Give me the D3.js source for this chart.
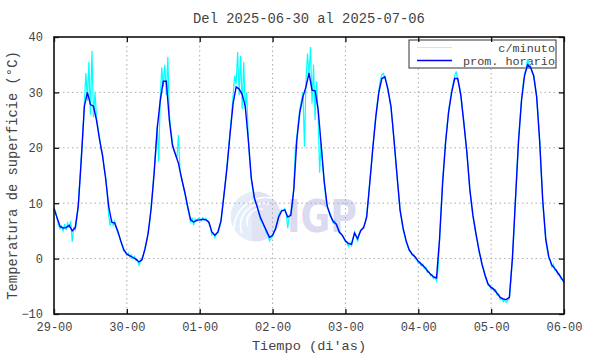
<!DOCTYPE html>
<html>
<head>
<meta charset="utf-8">
<script src="https://cdn.jsdelivr.net/npm/d3@7"></script>
<style>
  body { margin: 0; background: #fff; }
  text { font-family: "Liberation Mono", "DejaVu Sans Mono", monospace; fill: #444; }
</style>
</head>
<body>
<div class="canvas"></div>
<script>
// tick labels (dias) and y ticks
const dayLabels = ["29-00", "30-00", "01-00", "02-00", "03-00", "04-00", "05-00", "06-00"];
const yTicks = [-10, 0, 10, 20, 30, 40];

// promedio horario, one value per hour (0..168)
const promHorario = [
  9.0, 7.4, 5.8, 5.5, 5.6, 6.0, 5.0, 5.6, 9.5, 18, 27.5, 30, 27.8, 27.5, 25, 21.5, 18.5, 14.5, 9.5, 6.6, 6.4, 5.0, 3.2, 1.6,
  0.8, 0.5, 0.2, -0.1, -0.6, -0.2, 1.8, 4.5, 9.0, 15.5, 23.5, 28.5, 32, 32, 25, 20.5, 18.8, 17.2, 14.5, 12.2, 9.5, 7.0, 6.6, 6.9,
  7.0, 7.1, 7.0, 6.6, 4.8, 4.2, 4.8, 6.8, 11.5, 16.5, 22.5, 28, 31, 30.6, 29.6, 27.5, 21.5, 14.5, 11.0, 9.2, 7.4, 6.2, 5.0, 3.8,
  4.2, 5.4, 7.5, 8.6, 8.8, 7.5, 7.8, 12.5, 21.5, 26.5, 29.2, 31, 33.5, 30.4, 30.3, 27, 20.5, 14, 9.5, 7.8, 6.7, 6.2, 4.8, 4.2,
  3.2, 2.7, 2.6, 4.6, 3.6, 5.0, 5.6, 7.5, 13.5, 19.8, 25.5, 30, 32.5, 32.8, 30.5, 27.5, 21.5, 15, 8.8, 5.5, 3.2, 1.6, 0.8, 0.3,
  -0.5, -1.0, -1.5, -2.2, -2.8, -3.3, -3.5, 3.5, 13.5, 21, 26.5, 30, 32.5, 32.5, 29.5, 24.5, 19.2, 12.4, 7.8, 4.5, 1.5, -1.0, -3.0, -4.6,
  -5.2, -5.6, -6.3, -7.0, -7.3, -7.4, -7.0, 0.0, 10.5, 21, 28.5, 33, 35, 34.5, 33, 29.2, 21, 10.5, 3.5, 0.3, -1.2, -1.8, -2.6, -3.4,
  -4.2
];

// c/minuto, read every half hour (0, 0.5, ... 168)
const cMinuto = [
  9.2, 8.6, 7.2, 6.0, 5.4, 5.9, 5.0, 6.2, 5.2, 6.4, 5.5, 6.8, 3.0, 5.6, 5.2, 7.0, 9.8, 14, 18.5, 22.5, 28, 33.5, 28.5, 35.5,
  26, 37.5, 25.5, 30, 25.5, 23.5, 21.8, 20, 18.8, 16.5, 14.8, 12, 7.8, 6.0, 7.0, 6.0, 6.8, 5.5, 4.6, 4.0, 3.0, 2.2, 1.3, 1.2,
  0.6, 1.0, 0.3, 0.7, 0.0, 0.4, -0.4, -0.2, -1.2, -0.5, 0.2, 0.8, 2.0, 3.0, 4.8, 6.5, 9.5, 12.5, 16, 19.5, 24, 17.5, 29, 34.5,
  31, 35, 29.5, 36.4, 26, 23, 21, 19.5, 19.0, 18.0, 22.3, 16.0, 14.8, 13.2, 12.0, 10.8, 9.0, 8.0, 6.5, 7.4, 6.0, 7.2, 6.8, 7.3,
  7.2, 6.8, 7.4, 7.0, 7.3, 6.8, 6.4, 5.8, 4.3, 4.6, 3.8, 4.5, 4.6, 5.5, 6.6, 9.0, 11.8, 14.0, 17, 20, 23, 26, 29.5, 33,
  31.5, 37.3, 29.5, 36.6, 27, 35.5, 27, 30, 21.5, 17.5, 14.2, 12.5, 10.5, 10.0, 9.5, 8.0, 7.0, 6.6, 6.0, 5.4, 4.6, 4.2, 3.2, 3.6,
  4.0, 5.0, 5.6, 6.6, 7.8, 8.4, 8.8, 8.6, 9.0, 8.2, 5.5, 7.8, 8.0, 9.5, 13, 20.0, 22, 25, 27, 28.5, 30, 20.2, 32, 37.0,
  33, 38.2, 28, 35, 25, 32, 26, 15.5, 21, 17, 13.8, 11, 9.2, 8.6, 8.2, 7.2, 6.4, 6.8, 6.0, 5.4, 4.6, 4.5, 4.0, 3.6,
  3.0, 2.8, 2.2, 2.9, 2.3, 3.6, 4.8, 4.0, 3.0, 4.4, 5.2, 5.4, 5.8, 6.4, 7.8, 10.5, 13.8, 16.5, 20, 22.8, 25.8, 28.2, 30.4, 32.2,
  33.2, 33.4, 32.6, 31.8, 30.8, 29.0, 27.2, 24.5, 21.2, 18.0, 14.8, 11.8, 8.6, 7.0, 5.2, 4.2, 3.0, 2.2, 1.4, 1.2, 0.6, 0.7, 0.0, -0.2,
  -0.8, -0.6, -1.3, -1.0, -1.8, -1.6, -2.5, -2.3, -3.1, -2.9, -3.6, -3.3, -4.0, -2.0, 3.2, 8.5, 13.8, 17.5, 21.3, 24.0, 26.8, 28.6, 30.3, 31.8,
  33.0, 33.8, 32.2, 31.2, 29.8, 27.2, 24.8, 22.0, 19.0, 15.8, 12.2, 9.8, 7.6, 6.0, 4.2, 3.0, 1.2, 0.2, -1.3, -2.0, -3.2, -4.0, -4.8, -5.0,
  -5.5, -5.2, -5.9, -5.6, -6.6, -6.4, -7.4, -7.1, -7.8, -7.4, -7.9, -7.5, -7.2, -4.0, 0.3, 5.0, 10.8, 16, 21.3, 25.2, 28.8, 31.5, 33.3, 34.5,
  36.0, 35.0, 34.8, 33.6, 33.2, 31.5, 29.0, 25.5, 21.2, 15.5, 10.2, 6.5, 3.2, 1.5, 0.0, -0.3, -1.5, -1.0, -2.1, -2.0, -2.9, -2.8, -3.7, -3.8,
  -4.4
];

const width = 590, height = 354;
const margin = {top: 37, right: 26, bottom: 40, left: 54};
const graphWidth = width - margin.left - margin.right;
const graphHeight = height - margin.top - margin.bottom;

const svg = d3.select('.canvas')
    .append('svg')
    .attr('width', width)
    .attr('height', height);

const graph = svg.append('g')
    .attr('transform', `translate(${margin.left}, ${margin.top})`);

const x = d3.scaleLinear().domain([0, 168]).range([0, graphWidth]);
const y = d3.scaleLinear().domain([-10, 40]).range([graphHeight, 0]);
const dayTicks = dayLabels.map((d, i) => i * 24);

// IGP watermark
const wm = graph.append('g').attr('transform', `translate(${x(66.5)}, ${y(7.6)})`);
wm.append('circle').attr('r', 25).attr('fill', '#e2e2f5');
wm.append('path').attr('d', 'M-25,0 A25,25 0 0 1 -4,-24.7 L-4,24.7 A25,25 0 0 1 -25,0Z').attr('fill', '#e4edfa');
[8, 14, 20].forEach(r => {
  wm.append('path')
    .attr('d', `M${-r},${r * 1.2} A${r * 1.6},${r * 1.6} 0 0 1 ${r * 0.9},${-r * 0.9}`)
    .attr('fill', 'none').attr('stroke', '#fff').attr('stroke-width', 1.6);
});
wm.append('text')
    .attr('x', 31).attr('y', 16)
    .attr('textLength', 70).attr('lengthAdjust', 'spacingAndGlyphs')
    .style('font-family', '"DejaVu Sans", sans-serif')
    .style('font-weight', 'bold').style('font-size', '44px')
    .style('fill', '#dadaf0')
    .text('IGP');

// grid
graph.append('g').selectAll('line')
    .data(dayTicks.slice(1, -1))
    .join('line')
    .attr('x1', d => x(d)).attr('x2', d => x(d))
    .attr('y1', 0).attr('y2', graphHeight)
    .attr('stroke', '#aaa').attr('stroke-dasharray', '1.5,3');
graph.append('g').selectAll('line')
    .data(yTicks.slice(1, -1))
    .join('line')
    .attr('y1', d => y(d)).attr('y2', d => y(d))
    .attr('x1', 0).attr('x2', graphWidth)
    .attr('stroke', '#aaa').attr('stroke-dasharray', '1.5,3');

// legend box (data runs over it)
const legend = graph.append('g').attr('transform', `translate(${355}, ${3})`);
legend.append('rect')
    .attr('width', 147).attr('height', 28)
    .attr('fill', '#fff').attr('stroke', '#333').attr('stroke-width', 1);
legend.append('line').attr('x1', 8).attr('x2', 43).attr('y1', 7.5).attr('y2', 7.5)
    .attr('stroke', '#9ff').attr('stroke-width', 1);
legend.append('line').attr('x1', 8).attr('x2', 43).attr('y1', 20.5).attr('y2', 20.5)
    .attr('stroke', '#0000ff').attr('stroke-width', 1.5);
legend.append('text').attr('x', 146).attr('y', 11.5).attr('text-anchor', 'end')
    .style('font-size', '11.8px').text('c/minuto');
legend.append('text').attr('x', 146).attr('y', 25).attr('text-anchor', 'end')
    .style('font-size', '11.8px').text('prom. horario');

// series
const minuteLine = d3.line().x((d, i) => x(i * 0.5)).y(d => y(d));
const hourLine = d3.line().x((d, i) => x(i)).y(d => y(d));

graph.append('path')
    .datum(cMinuto)
    .attr('d', minuteLine)
    .attr('fill', 'none').attr('stroke', '#00ffff').attr('stroke-width', 1.2);
graph.append('path')
    .datum(promHorario)
    .attr('d', hourLine)
    .attr('fill', 'none').attr('stroke', '#0000ff').attr('stroke-width', 1.4);

// axes (ticks inward on all sides)
const xAxis = d3.axisBottom(x).tickValues(dayTicks).tickFormat((d, i) => dayLabels[i])
    .tickSize(-5).tickPadding(8);
const yAxis = d3.axisLeft(y).tickValues(yTicks).tickSize(-5).tickPadding(11);

const xAxisGroup = graph.append('g').attr('transform', `translate(0, ${graphHeight})`).call(xAxis);
const yAxisGroup = graph.append('g').call(yAxis);
graph.append('g').call(d3.axisTop(x).tickValues(dayTicks).tickSize(-5).tickFormat(''));
graph.append('g').attr('transform', `translate(${graphWidth}, 0)`)
    .call(d3.axisRight(y).tickValues(yTicks).tickSize(-5).tickFormat(''));

graph.selectAll('.domain').remove();
graph.selectAll('.tick line').attr('stroke', '#111').attr('stroke-width', 1.3);
graph.selectAll('.tick text').style('font-size', '12px').style('fill', '#444');

graph.append('rect')
    .attr('width', graphWidth).attr('height', graphHeight)
    .attr('fill', 'none').attr('stroke', '#111').attr('stroke-width', 1.6);

// titles
svg.append('text')
    .attr('x', margin.left + graphWidth / 2).attr('y', 23)
    .attr('text-anchor', 'middle').style('font-size', '13.8px')
    .text('Del 2025-06-30 al 2025-07-06');
svg.append('text')
    .attr('x', margin.left + graphWidth / 2).attr('y', 350)
    .attr('text-anchor', 'middle').style('font-size', '13.6px')
    .text("Tiempo (di'as)");
svg.append('text')
    .attr('transform', `translate(17, ${margin.top + graphHeight / 2}) rotate(-90)`)
    .attr('text-anchor', 'middle').style('font-size', '13.8px')
    .text('Temperatura de superficie (°C)');
</script>
</body>
</html>
